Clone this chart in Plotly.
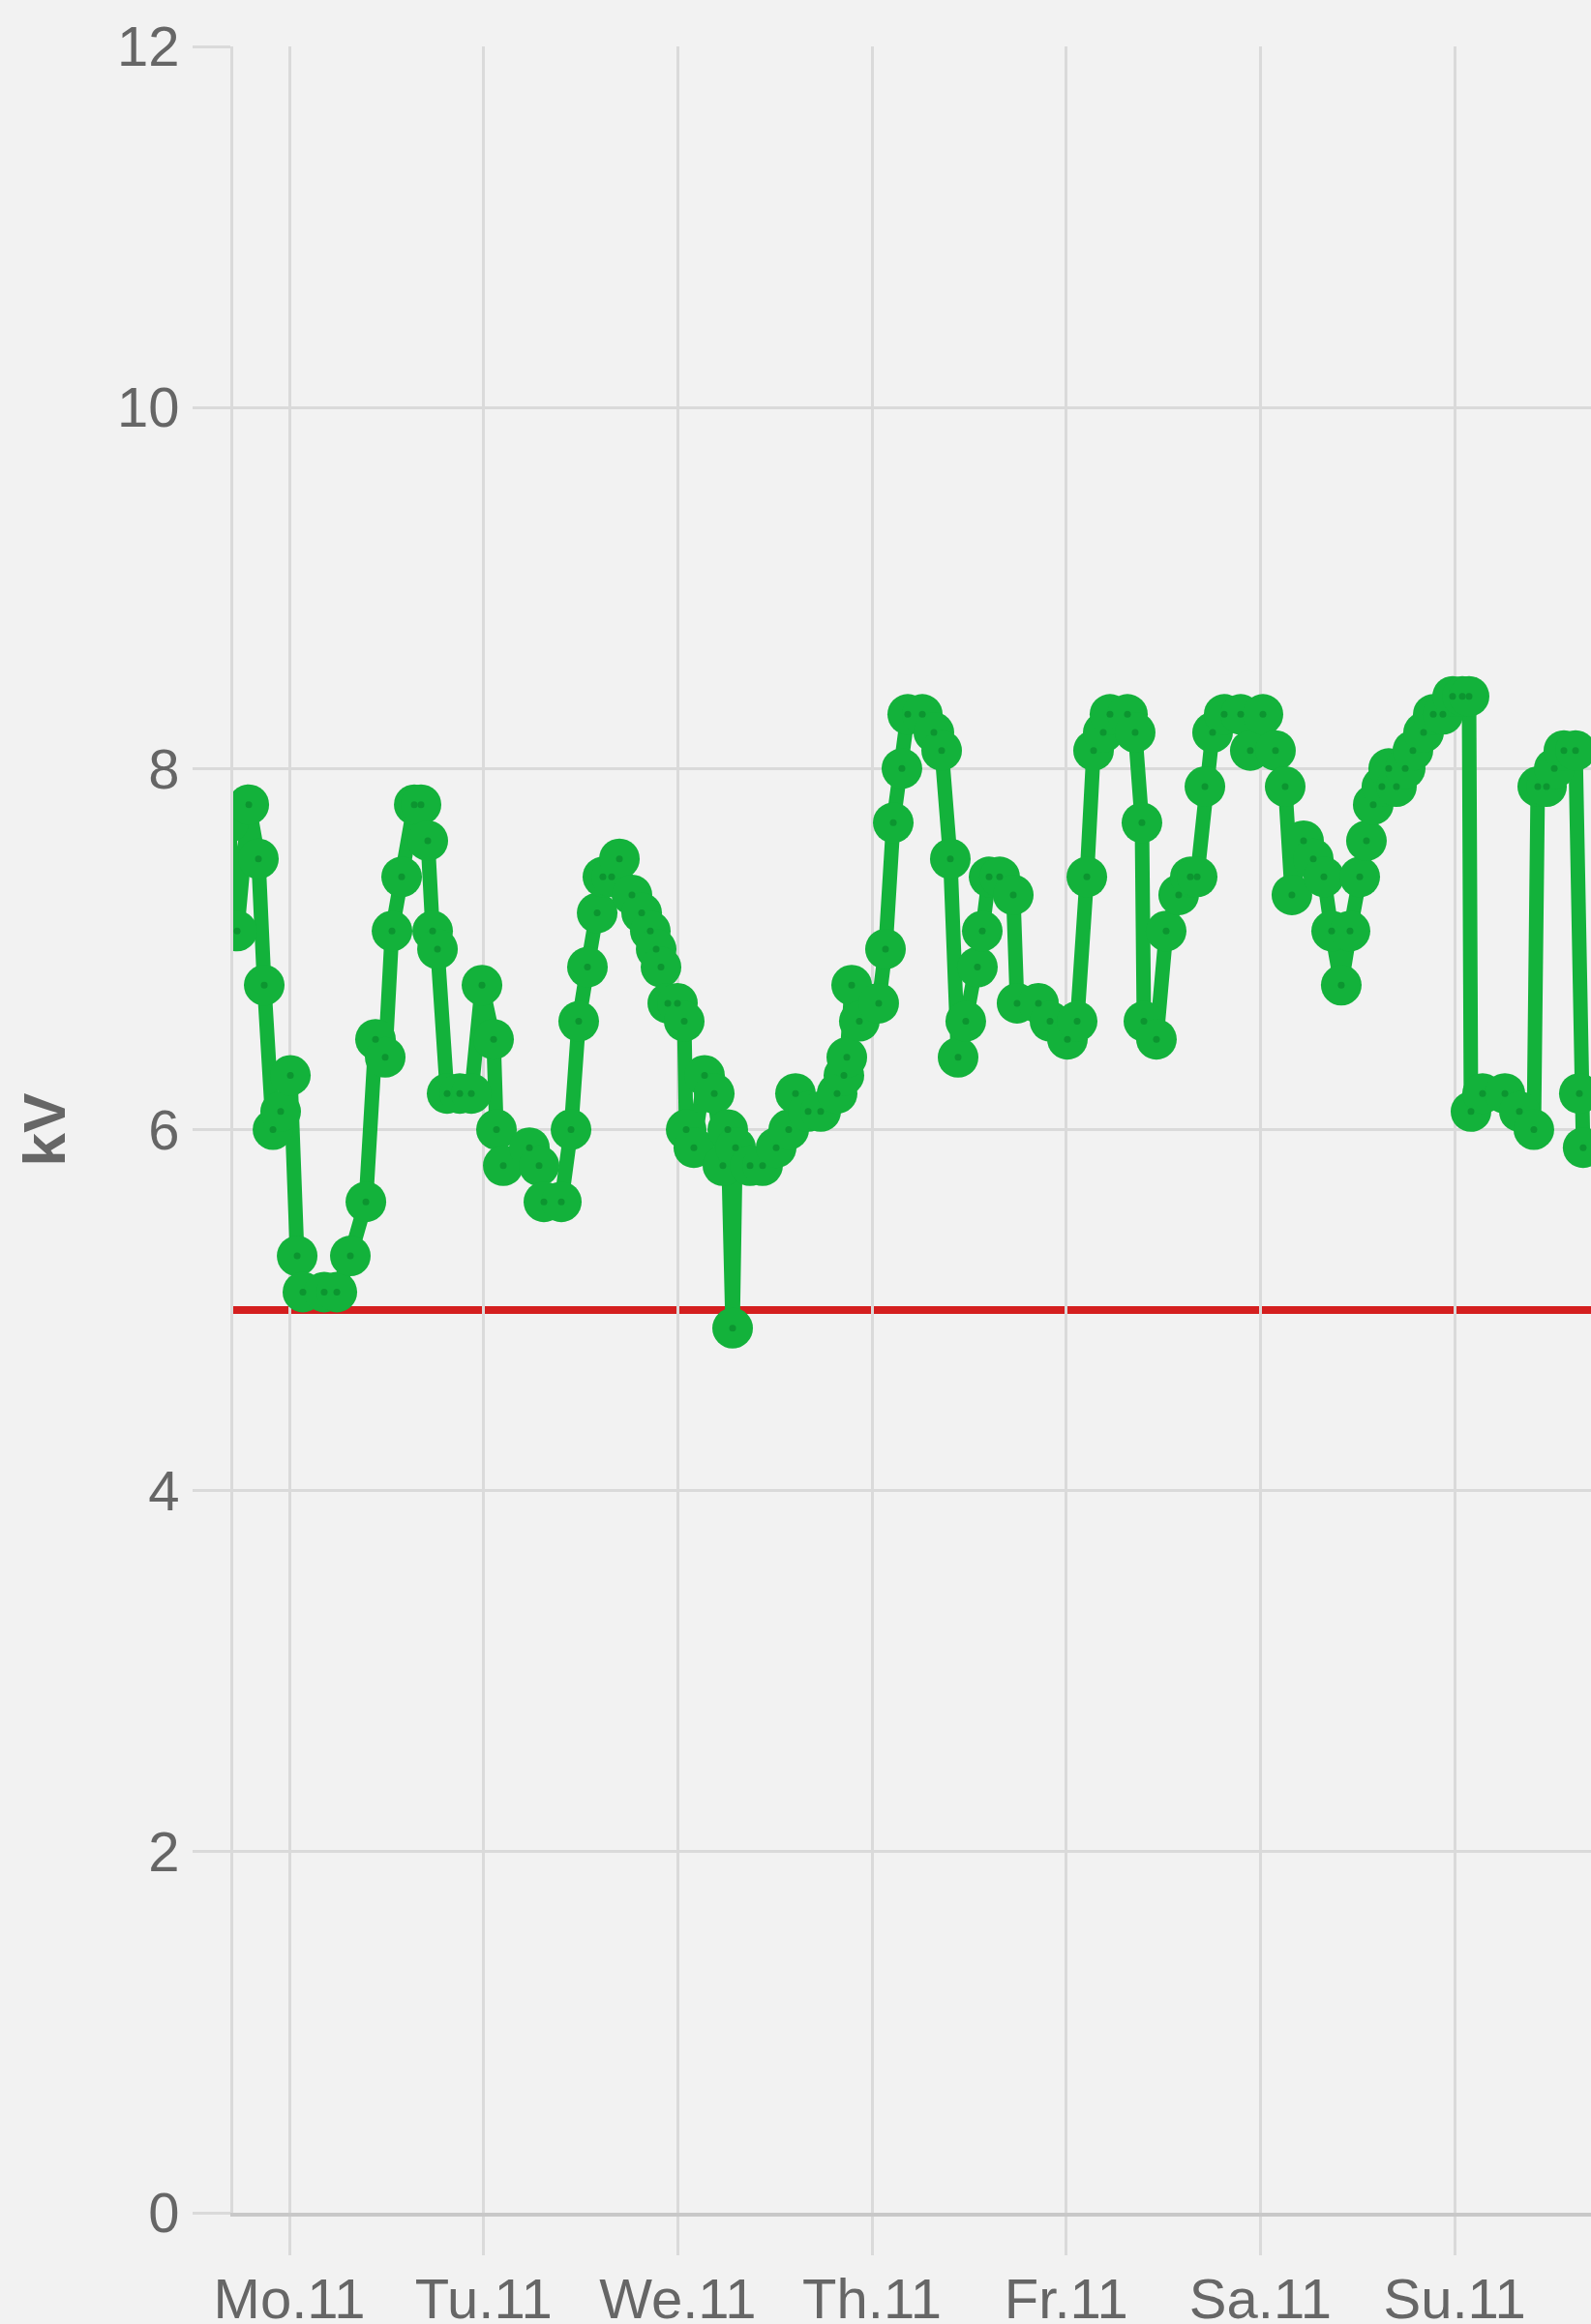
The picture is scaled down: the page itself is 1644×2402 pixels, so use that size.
import plotly.graph_objects as go

# ---- data (hours relative to Monday 00:00, kV) ----
hours = [
    -7.53, -6.46, -5.02, -3.83, -3.11, -2.03, -1.08, 0.12, 0.96, 1.67,
    4.30, 5.86, 7.53, 9.45, 10.64, 11.84, 12.68, 13.87, 15.43, 16.26,
    17.10, 17.70, 18.30, 19.49, 21.05, 22.48, 23.80, 25.23, 25.59, 26.43,
    29.66, 30.85, 31.45, 33.60, 34.80, 35.75, 36.83, 38.03, 38.74, 39.82,
    40.78, 42.33, 43.53, 44.60, 45.32, 45.92, 46.76, 47.95, 48.79, 49.03,
    49.98, 51.30, 52.50, 53.57, 54.17, 54.77, 55.13, 56.92, 58.47, 60.15,
    61.70, 62.54, 64.10, 65.65, 67.68, 68.52, 68.88, 69.48, 70.43, 72.82,
    73.66, 74.62, 75.69, 76.41, 78.21, 79.64, 80.60, 81.67, 82.63, 83.58,
    85.02, 85.62, 86.46, 87.77, 89.45, 89.92, 92.56, 93.99, 96.14, 97.34,
    98.54, 99.37, 100.57, 101.40, 103.56, 104.51, 105.35, 105.59, 107.14, 108.34,
    109.89, 111.33, 112.17, 113.13, 114.08, 115.51, 117.55, 118.74, 120.30, 121.85,
    123.05, 123.88, 125.32, 126.52, 127.83, 128.79, 129.98, 131.06, 132.26, 133.09,
    133.93, 135.00, 135.84, 136.80, 137.88, 138.83, 140.15, 141.35, 142.54, 143.74,
    144.94, 145.77, 146.01, 147.44, 150.20, 151.99, 153.78, 154.26, 155.34, 156.30,
    157.49, 158.93, 159.40, 159.87,
]
kv = [
    7.7, 7.1, 7.8, 7.5, 6.8, 6.0, 6.1, 6.3, 5.3, 5.1,
    5.1, 5.1, 5.3, 5.6, 6.5, 6.4, 7.1, 7.4, 7.8, 7.8,
    7.6, 7.1, 7.0, 6.2, 6.2, 6.2, 6.8, 6.5, 6.0, 5.8,
    5.9, 5.8, 5.6, 5.6, 6.0, 6.6, 6.9, 7.2, 7.4, 7.4,
    7.5, 7.3, 7.2, 7.1, 7.0, 6.9, 6.7, 6.7, 6.6, 6.0,
    5.9, 6.3, 6.2, 5.8, 6.0, 4.9, 5.9, 5.8, 5.8, 5.9,
    6.0, 6.2, 6.1, 6.1, 6.2, 6.3, 6.4, 6.8, 6.6, 6.7,
    7.0, 7.7, 8.0, 8.3, 8.3, 8.2, 8.1, 7.5, 6.4, 6.6,
    6.9, 7.1, 7.4, 7.4, 7.3, 6.7, 6.7, 6.6, 6.5, 6.6,
    7.4, 8.1, 8.2, 8.3, 8.3, 8.2, 7.7, 6.6, 6.5, 7.1,
    7.3, 7.4, 7.4, 7.9, 8.2, 8.3, 8.3, 8.1, 8.3, 8.1,
    7.9, 7.3, 7.6, 7.5, 7.4, 7.1, 6.8, 7.1, 7.4, 7.6,
    7.8, 7.9, 8.0, 7.9, 8.0, 8.1, 8.2, 8.3, 8.3, 8.4,
    8.4, 8.4, 6.1, 6.2, 6.2, 6.1, 6.0, 7.9, 7.9, 8.0,
    8.1, 8.1, 6.2, 5.9,
]
threshold_kv = 5.0

day_ticks = [0, 24, 48, 72, 96, 120, 144]
day_labels = ["Mo.11", "Tu.11", "We.11", "Th.11", "Fr.11", "Sa.11", "Su.11"]
y_ticks = [0, 2, 4, 6, 8, 10, 12]

GREEN = "#13b23b"
DARK_GREEN = "#0c9530"
RED = "#d41f1f"
GRID = "#dadada"
BG = "#f2f2f2"
FONT = "Liberation Sans, Arial, sans-serif"

fig = go.Figure()
fig.add_hline(y=threshold_kv, line=dict(color=RED, width=8), layer="below")
fig.add_trace(go.Scatter(
    x=hours, y=kv, mode="lines+markers",
    line=dict(color=GREEN, width=15),
    marker=dict(color=GREEN, size=42, line=dict(width=0)),
    hoverinfo="skip", showlegend=False,
))
fig.add_trace(go.Scatter(
    x=hours, y=kv, mode="markers",
    marker=dict(color=DARK_GREEN, size=7, line=dict(width=0)),
    hoverinfo="skip", showlegend=False,
))

fig.update_layout(
    width=1644, height=2402,
    margin=dict(l=241, r=0, t=48, b=115),
    paper_bgcolor=BG, plot_bgcolor=BG,
    font=dict(family=FONT, color="#666666", size=58),
    showlegend=False,
)
fig.update_xaxes(
    range=[-6.94, 160.84],
    automargin=False,
    tickmode="array", tickvals=day_ticks, ticktext=day_labels,
    showgrid=True, gridcolor=GRID, gridwidth=3,
    ticks="outside", ticklen=40, tickwidth=3, tickcolor=GRID,
    ticklabelstandoff=-5,
    showline=True, linecolor="#c8c8c8", linewidth=4,
    zeroline=False,
    tickfont=dict(size=58, color="#666666", family=FONT),
)
fig.update_yaxes(
    range=[0, 12],
    automargin=False,
    tickmode="array", tickvals=y_ticks,
    showgrid=True, gridcolor=GRID, gridwidth=3,
    ticks="outside", ticklen=39, tickwidth=3, tickcolor=GRID,
    ticklabelstandoff=2,
    showline=True, linecolor=GRID, linewidth=3,
    zeroline=False,
    tickfont=dict(size=58, color="#666666", family=FONT),
)
fig.add_annotation(
    text="<b>kV</b>", xref="paper", yref="paper",
    x=-0.139, y=0.5, xanchor="center", yanchor="middle",
    textangle=-90, showarrow=False,
    font=dict(size=62, color="#666666", family=FONT),
)

fig.write_html(
    "out.html",
    config={"displayModeBar": False},
    post_script="document.body.style.margin='0';document.body.style.background='#f2f2f2';",
)
